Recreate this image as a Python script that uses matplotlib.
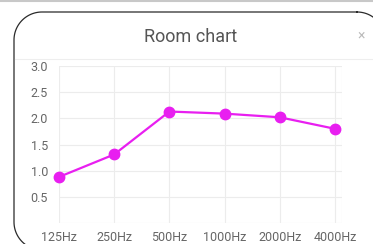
import numpy as np
import matplotlib.pyplot as plt
from matplotlib.lines import Line2D

labels = ['125Hz', '250Hz', '500Hz', '1000Hz', '2000Hz', '4000Hz']
values = [0.88, 1.31, 2.13, 2.09, 2.02, 1.80]
yticks = [0.5, 1.0, 1.5, 2.0, 2.5, 3.0]

W, H = 373, 244
plt.rcParams['font.family'] = ['Roboto', 'DejaVu Sans']
fig = plt.figure(figsize=(W / 100, H / 100), dpi=100)


def fx(px):
    return px / W


def fy(py):
    return 1 - py / H


# top gray strip line
fig.add_artist(Line2D([0, 1], [fy(1), fy(1)], color='#c8c8c8', lw=1.5))

# rounded card border, partly outside the figure (pixel coords, y down)
left, top, right, bottom, r = 14, 12, 385, 250, 28
pts = []
for cx, cy, a0 in [(right - r, top + r, -90), (right - r, bottom - r, 0),
                   (left + r, bottom - r, 90), (left + r, top + r, 180)]:
    t = np.radians(np.linspace(a0, a0 + 90, 30))
    pts.append(np.column_stack([cx + r * np.cos(t), cy + r * np.sin(t)]))
pts = np.vstack(pts + [pts[0][:1]])
fig.add_artist(Line2D(fx(pts[:, 0]), fy(pts[:, 1]), color='#2a2a2a', lw=0.9))

# header separator
fig.add_artist(Line2D([fx(15), fx(372)], [fy(58.5), fy(58.5)], color='#eeeeee', lw=0.8))

fig.text(fx(191), fy(37), 'Room chart', ha='center', va='center',
         fontsize=13, color='#555555')
fig.text(fx(361), fy(35), '×', ha='center', va='center',
         fontsize=10, color='#bbbbbb')

ax = fig.add_axes([fx(59), fy(223), fx(342) - fx(59), fy(66) - fy(223)])
x = list(range(len(labels)))
ax.plot(x, values, color='#e81ff0', lw=1.6, marker='o', markersize=7.5, zorder=3,
        clip_on=False)
ax.set_xlim(0, 5 + 7 / 55)
ax.set_ylim(0, 3)
ax.set_xticks(x)
ax.set_xticklabels(labels)
ax.set_yticks(yticks)
ax.set_yticklabels([f'{v:.1f}' for v in yticks])
ax.grid(True, color='#ececec', lw=0.8)
ax.set_axisbelow(True)
for s in ax.spines.values():
    s.set_visible(False)
ax.axhline(0, color='#ececec', lw=0.8, zorder=0)
ax.axvline(5 + 7 / 55, color='#ececec', lw=0.8, zorder=0)
ax.tick_params(axis='both', length=0, labelsize=9, labelcolor='#666666')
ax.tick_params(axis='y', pad=8)
ax.tick_params(axis='x', pad=5.5)

fig.savefig('out.png', dpi=100)
